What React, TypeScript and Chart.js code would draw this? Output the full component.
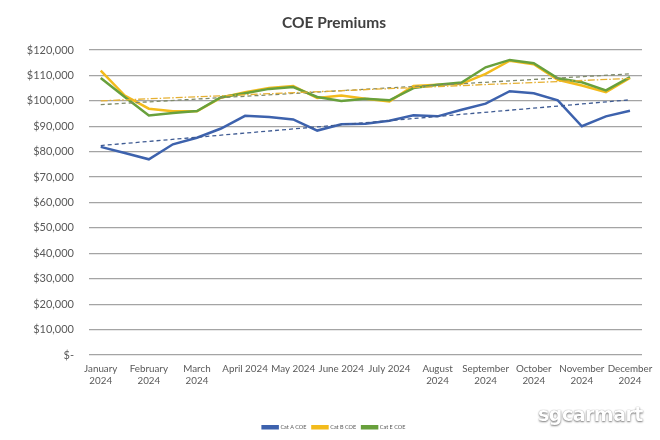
import { useEffect, useRef } from "react";
import { Chart, registerables } from "chart.js";

Chart.register(...registerables);

// month tick labels, one under every second bidding exercise
const monthLabels: (string | string[])[] = [
  ["January", "2024"],
  ["February", "2024"],
  ["March", "2024"],
  "April 2024",
  "May 2024",
  "June 2024",
  "July 2024",
  ["August", "2024"],
  ["September", "2024"],
  ["October", "2024"],
  ["November", "2024"],
  ["December", "2024"],
];

const catA = [
  81900, 79500, 77000, 82900, 85500, 89100, 94100, 93600, 92700, 88300, 90800,
  91000, 92200, 94300, 93900, 96500, 98900, 103800, 103000, 100200, 90000,
  93900, 96100,
];
const catB = [
  111900, 102100, 96900, 95900, 95900, 101200, 103400, 105100, 105800, 101100,
  102100, 100800, 99800, 105800, 106300, 106700, 110600, 115800, 114400,
  108300, 106000, 103400, 109000,
];
const catE = [
  109000, 101500, 94200, 95200, 96000, 101400, 103000, 104700, 105400, 101500,
  99900, 100800, 100200, 105000, 106300, 107200, 113200, 116100, 114800,
  108900, 107300, 104100, 109300,
];

// linear trendline start / end values
const trendA = [82400, 100400];
const trendB = [100000, 108800];
const trendE = [98500, 110600];

const categories = catA.map((_, i) => (i % 2 === 0 ? monthLabels[i / 2] : ""));

const trendData = (ends: number[]) =>
  categories.map((_, i) =>
    i === 0 ? ends[0] : i === categories.length - 1 ? ends[1] : null
  );

export default function App() {
  const canvasRef = useRef<HTMLCanvasElement>(null);

  useEffect(() => {
    if (!canvasRef.current) return;
    const chart = new Chart(canvasRef.current, {
      type: "line",
      data: {
        labels: categories as any,
        datasets: [
          {
            label: "Cat A COE",
            data: catA,
            borderColor: "#3d62ad",
            backgroundColor: "#3d62ad",
            borderWidth: 2.5,
            pointRadius: 0,
            order: 3,
          },
          {
            label: "Cat B COE",
            data: catB,
            borderColor: "#f3bb1c",
            backgroundColor: "#f3bb1c",
            borderWidth: 2.5,
            pointRadius: 0,
            order: 2,
          },
          {
            label: "Cat E COE",
            data: catE,
            borderColor: "#68a03c",
            backgroundColor: "#68a03c",
            borderWidth: 2.5,
            pointRadius: 0,
            order: 1,
          },
          {
            label: "trendA",
            data: trendData(trendA),
            borderColor: "#3f5b93",
            borderWidth: 1.3,
            borderDash: [4, 3],
            pointRadius: 0,
            spanGaps: true,
            order: 0,
          },
          {
            label: "trendB",
            data: trendData(trendB),
            borderColor: "#e6b032",
            borderWidth: 1.3,
            borderDash: [7, 2, 1.5, 2],
            pointRadius: 0,
            spanGaps: true,
            order: 0,
          },
          {
            label: "trendE",
            data: trendData(trendE),
            borderColor: "#7f8a6a",
            borderWidth: 1.3,
            borderDash: [4, 3],
            pointRadius: 0,
            spanGaps: true,
            order: 0,
          },
        ],
      },
      options: {
        animation: false,
        responsive: true,
        maintainAspectRatio: false,
        layout: { padding: { top: 13.7, left: 26, right: 18, bottom: 0 } },
        plugins: {
          title: {
            display: true,
            text: "COE Premiums",
            color: "#404040",
            font: { family: "Lato", size: 15.5, weight: "bold" },
            padding: { top: 0, bottom: 17.7 },
          },
          legend: {
            position: "bottom",
            labels: {
              boxWidth: 15,
              boxHeight: 2,
              padding: 6,
              color: "#595959",
              font: { family: "Lato", size: 5.5 },
              filter: (item) => (item.datasetIndex ?? 0) < 3,
              sort: (a, b) => (a.datasetIndex ?? 0) - (b.datasetIndex ?? 0),
            },
          },
          tooltip: { enabled: false },
        },
        scales: {
          x: {
            offset: true,
            grid: { display: false, drawTicks: false },
            border: { display: false },
            ticks: {
              autoSkip: false,
              maxRotation: 0,
              padding: 7,
              color: "#595959",
              font: { family: "Lato", size: 9.8, lineHeight: 1.3 },
            },
            afterFit: (scale) => {
              scale.height = 63.5;
            },
          },
          y: {
            min: 0,
            max: 120000,
            grid: { color: "#a4a4a4", lineWidth: 1.2, drawTicks: false },
            border: { display: false },
            ticks: {
              stepSize: 10000,
              padding: 14.7,
              color: "#595959",
              font: { family: "Lato", size: 11 },
              callback: (v) =>
                Number(v) === 0 ? "$-" : "$" + Number(v).toLocaleString("en-US"),
            },
            afterFit: (scale) => {
              scale.width = 62.7;
            },
          },
        },
      },
    });
    return () => chart.destroy();
  }, []);

  return (
    <div
      style={{
        position: "absolute",
        left: 0,
        top: 0,
        width: 660,
        height: 440,
        background: "#fff",
      }}
    >
      <canvas ref={canvasRef} />
      <div
        style={{
          position: "absolute",
          left: 538,
          top: 403,
          fontFamily: "DejaVu Sans",
          fontWeight: "bold",
          fontSize: 19,
          letterSpacing: -0.5,
          color: "#ffffff",
          textShadow: "0 1px 2px rgba(0,0,0,0.5), 0 0 1px rgba(0,0,0,0.4)",
        }}
      >
        sgcarmart
      </div>
    </div>
  );
}
